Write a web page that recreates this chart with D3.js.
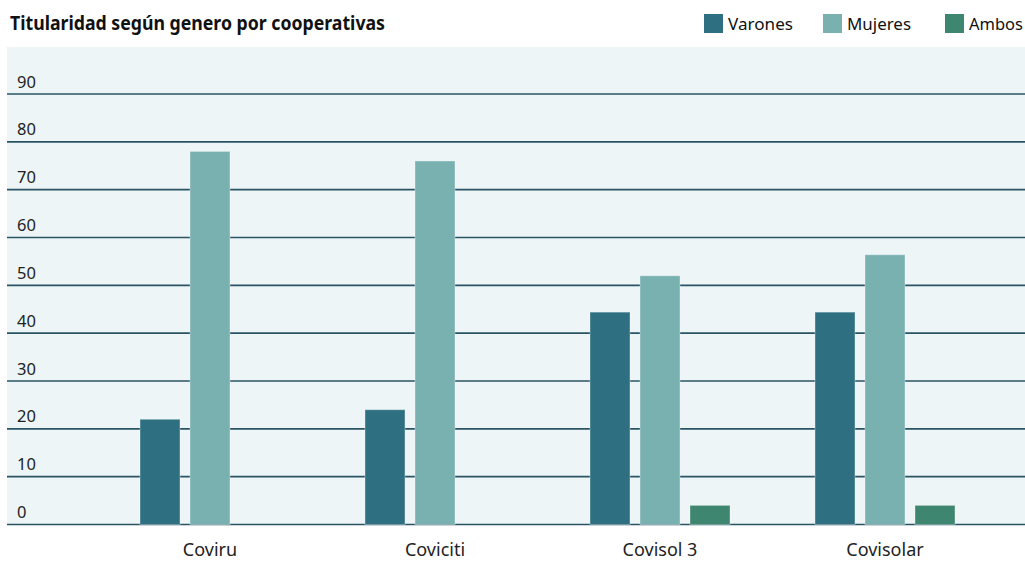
<!DOCTYPE html>
<html>
<head>
<meta charset="utf-8">
<script src="https://cdn.jsdelivr.net/npm/d3@7"></script>
<style>
  html, body { margin: 0; padding: 0; background: #ffffff; }
  svg { display: block; font-family: "Noto Sans", "Open Sans", sans-serif; }
</style>
</head>
<body>
<svg id="chart" width="1025" height="561"></svg>
<script>
const categories = ["Coviru", "Coviciti", "Covisol 3", "Covisolar"];
const seriesNames = ["Varones", "Mujeres", "Ambos"];
const varones = [22, 24, 44.4, 44.4];
const mujeres = [78, 76, 52, 56.4];
const ambos = [0, 0, 4, 4];
const yTicks = [0, 10, 20, 30, 40, 50, 60, 70, 80, 90];
const titleText = "Titularidad según genero por cooperativas";

const colors = { Varones: "#2e7082", Mujeres: "#79b1b1", Ambos: "#3f8670" };
const seriesValues = { Varones: varones, Mujeres: mujeres, Ambos: ambos };

const svg = d3.select("#chart");

// plot background
const plot = { left: 7, right: 1025, top: 47, bottom: 524.5 };
svg.append("rect")
  .attr("x", plot.left).attr("y", plot.top)
  .attr("width", plot.right - plot.left).attr("height", plot.bottom - plot.top)
  .attr("fill", "#edf5f7");

const y = d3.scaleLinear().domain([0, 90]).range([plot.bottom, 94]);
const x0 = d3.scaleBand().domain(categories).range([140, 955]).paddingInner(85 / 225).paddingOuter(0);
const x1 = d3.scaleBand().domain(seriesNames).range([0, x0.bandwidth()]).paddingInner(0.2).paddingOuter(0);

// gridlines
const grid = svg.append("g");
grid.selectAll("line").data(yTicks).join("line")
  .attr("x1", plot.left).attr("x2", plot.right)
  .attr("y1", d => y(d)).attr("y2", d => y(d))
  .attr("stroke", "#2a5464").attr("stroke-width", 1.6);

grid.selectAll("text").data(yTicks).join("text")
  .attr("x", 17).attr("y", d => y(d) - 6.5)
  .attr("font-size", 16.5).attr("fill", "#222")
  .text(d => d);

// bars
const rows = categories.map((c, i) => ({ cat: c, vals: seriesNames.map(s => ({ s, v: seriesValues[s][i] })) }));
const groups = svg.append("g").selectAll("g").data(rows).join("g")
  .attr("transform", d => `translate(${x0(d.cat)},0)`);
groups.selectAll("rect").data(d => d.vals.filter(e => e.v > 0)).join("rect")
  .attr("x", d => x1(d.s)).attr("width", x1.bandwidth())
  .attr("y", d => y(d.v)).attr("height", d => y(0) - y(d.v))
  .attr("fill", d => colors[d.s])
  .attr("stroke", "rgba(255,255,255,0.35)").attr("stroke-width", 1);

// x labels
svg.append("g").selectAll("text").data(categories).join("text")
  .attr("x", d => x0(d) + x0.bandwidth() / 2).attr("y", 556)
  .attr("text-anchor", "middle").attr("font-size", 18).attr("fill", "#222")
  .text(d => d);

// title
svg.append("text")
  .attr("x", 10).attr("y", 29.5)
  .attr("font-size", 20).attr("font-weight", "bold").attr("fill", "#111")
  .attr("textLength", 375).attr("lengthAdjust", "spacingAndGlyphs")
  .text(titleText);

// legend
const legendX = { Varones: 704, Mujeres: 823, Ambos: 945 };
const legendW = { Varones: 65, Mujeres: 64, Ambos: 54 };
const leg = svg.append("g").selectAll("g").data(seriesNames).join("g")
  .attr("transform", d => `translate(${legendX[d]},14)`);
leg.append("rect").attr("width", 19).attr("height", 19).attr("fill", d => colors[d]);
leg.append("text").attr("x", 24).attr("y", 15.5)
  .attr("font-size", 17).attr("fill", "#111")
  .attr("textLength", d => legendW[d]).attr("lengthAdjust", "spacingAndGlyphs")
  .text(d => d);
</script>
</body>
</html>
